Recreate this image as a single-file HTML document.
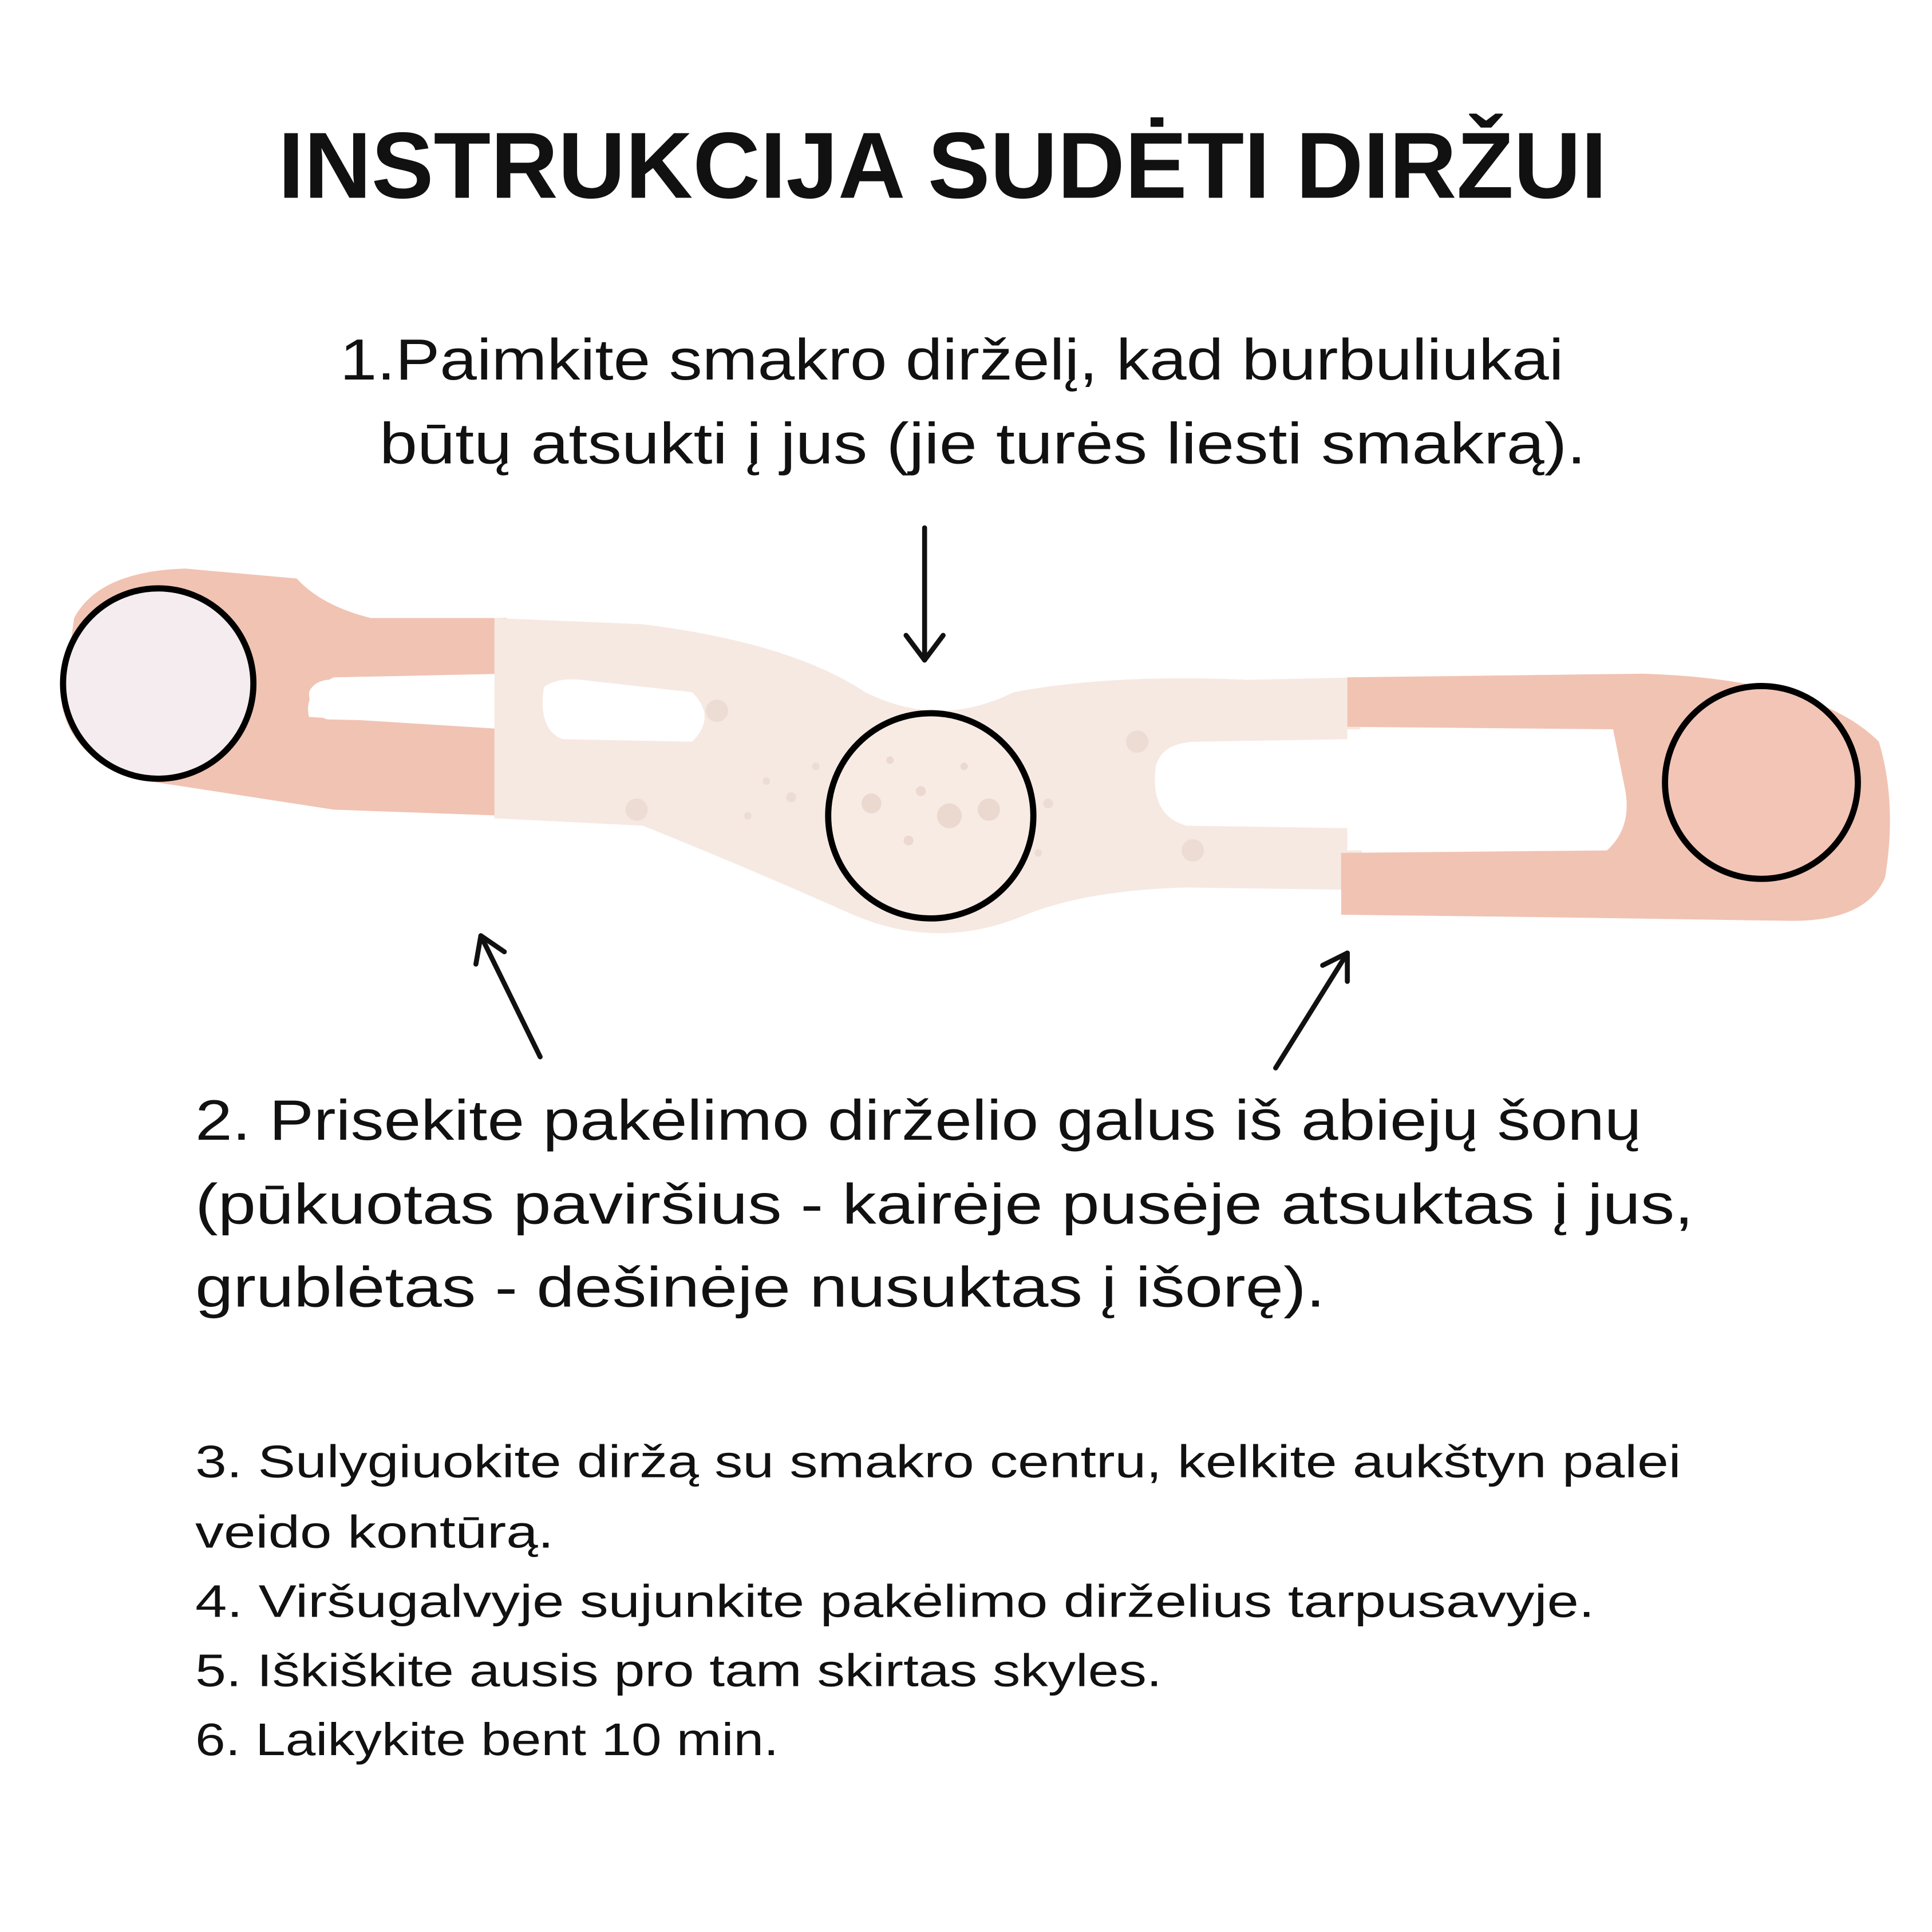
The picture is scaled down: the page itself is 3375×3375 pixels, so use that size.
<!DOCTYPE html>
<html><head><meta charset="utf-8"><style>
html,body{margin:0;padding:0;background:#fff}
svg{display:block}
text{font-family:"Liberation Sans",sans-serif;fill:#111}
</style></head><body>
<svg width="3375" height="3375" viewBox="0 0 1563 1563" xmlns="http://www.w3.org/2000/svg">
<rect width="1563" height="1563" fill="#fff"/>
<text x="225" y="160" font-size="76" font-weight="bold" textLength="1075" lengthAdjust="spacingAndGlyphs">INSTRUKCIJA SUDĖTI DIRŽUI</text>
<text x="275" y="307" font-size="47" textLength="990" lengthAdjust="spacingAndGlyphs">1.Paimkite smakro dirželį, kad burbuliukai</text>
<text x="307" y="375" font-size="47" textLength="976" lengthAdjust="spacingAndGlyphs">būtų atsukti į jus (jie turės liesti smakrą).</text>

<!-- belt: left pink -->
<path d="M60 500 Q80 462 150 460 L240 468 Q260 490 300 500 L410 500 L412 545 L270 548 Q245 560 250 580 L410 590 L410 660 L270 655 L140 635 Q60 625 50 570 Z" fill="#f1c3b3"/>
<path d="M250 560 Q255 548 275 550 L405 552 L405 585 L265 582 Q250 578 250 560 Z" fill="#fff"/>
<!-- white silicone -->
<path d="M400 500 L520 505 Q640 520 700 560 Q760 590 820 560 Q900 545 1010 550 L1100 548 L1102 720 L960 718 Q880 720 830 740 Q760 770 690 740 Q600 700 520 668 L400 662 Z" fill="#f6e9e2"/>
<path d="M440 556 Q450 548 470 550 L560 560 Q580 580 560 600 L455 598 Q435 590 440 556 Z" fill="#fff"/>
<path d="M935 620 Q940 600 970 600 L1090 598 L1092 670 L960 668 Q930 660 935 620 Z" fill="#fff"/>
<g fill="#ecdcd3">
<circle cx="580" cy="575" r="9"/><circle cx="515" cy="655" r="9"/><circle cx="920" cy="600" r="9"/><circle cx="965" cy="688" r="9"/>
<circle cx="640" cy="645" r="4"/><circle cx="620" cy="632" r="3"/><circle cx="660" cy="620" r="3"/><circle cx="605" cy="660" r="3"/><circle cx="848" cy="650" r="4"/><circle cx="840" cy="690" r="3"/>
</g>
<!-- right pink -->
<path d="M1090 548 L1330 545 Q1470 550 1520 600 Q1535 650 1525 710 Q1510 745 1450 745 L1250 742 L1085 740 L1085 690 L1300 688 Q1320 670 1315 640 L1305 590 L1090 588 Z" fill="#f1c3b3"/>
<path d="M1090 590 L1300 592 Q1318 640 1302 686 L1090 688 Z" fill="#fff"/>
<!-- circle fills -->
<circle cx="128" cy="553" r="76" fill="#f4ecee"/>
<circle cx="753" cy="660" r="81" fill="#f7ebe4"/>
<g fill="#ebd8cf"><circle cx="705" cy="650" r="8"/><circle cx="768" cy="660" r="10"/><circle cx="800" cy="655" r="9"/><circle cx="745" cy="640" r="4"/><circle cx="720" cy="615" r="3"/><circle cx="780" cy="620" r="3"/><circle cx="735" cy="680" r="4"/></g>
<circle cx="1425" cy="633" r="76" fill="#f2c5b6"/>
<g fill="none" stroke="#000" stroke-width="5">
<circle cx="128" cy="553" r="77"/>
<circle cx="753" cy="660" r="83"/>
<circle cx="1425" cy="633" r="78"/>
</g>
<!-- arrows -->
<g fill="none" stroke="#111" stroke-width="4" stroke-linecap="round" stroke-linejoin="round">
<line x1="748" y1="427" x2="748" y2="534"/><polyline points="733,514 748,534 763,514"/>
<line x1="437" y1="855" x2="389" y2="757"/><polyline points="385,780 389,757 408,770"/>
<line x1="1032" y1="864" x2="1090" y2="771"/><polyline points="1070,781 1090,771 1090,794"/>
</g>
<text x="158" y="922" font-size="46" textLength="1170" lengthAdjust="spacingAndGlyphs">2. Prisekite pakėlimo dirželio galus iš abiejų šonų</text>
<text x="158" y="990" font-size="46" textLength="1212" lengthAdjust="spacingAndGlyphs">(pūkuotas paviršius - kairėje pusėje atsuktas į jus,</text>
<text x="158" y="1057" font-size="46" textLength="914" lengthAdjust="spacingAndGlyphs">grublėtas - dešinėje nusuktas į išorę).</text>
<g font-size="37">
<text x="158" y="1195" textLength="1202" lengthAdjust="spacingAndGlyphs">3. Sulygiuokite diržą su smakro centru, kelkite aukštyn palei</text>
<text x="158" y="1252" textLength="290" lengthAdjust="spacingAndGlyphs">veido kontūrą.</text>
<text x="158" y="1308" textLength="1132" lengthAdjust="spacingAndGlyphs">4. Viršugalvyje sujunkite pakėlimo dirželius tarpusavyje.</text>
<text x="158" y="1364" textLength="782" lengthAdjust="spacingAndGlyphs">5. Iškiškite ausis pro tam skirtas skyles.</text>
<text x="158" y="1420" textLength="472" lengthAdjust="spacingAndGlyphs">6. Laikykite bent 10 min.</text>
</g>
</svg>
</body></html>
